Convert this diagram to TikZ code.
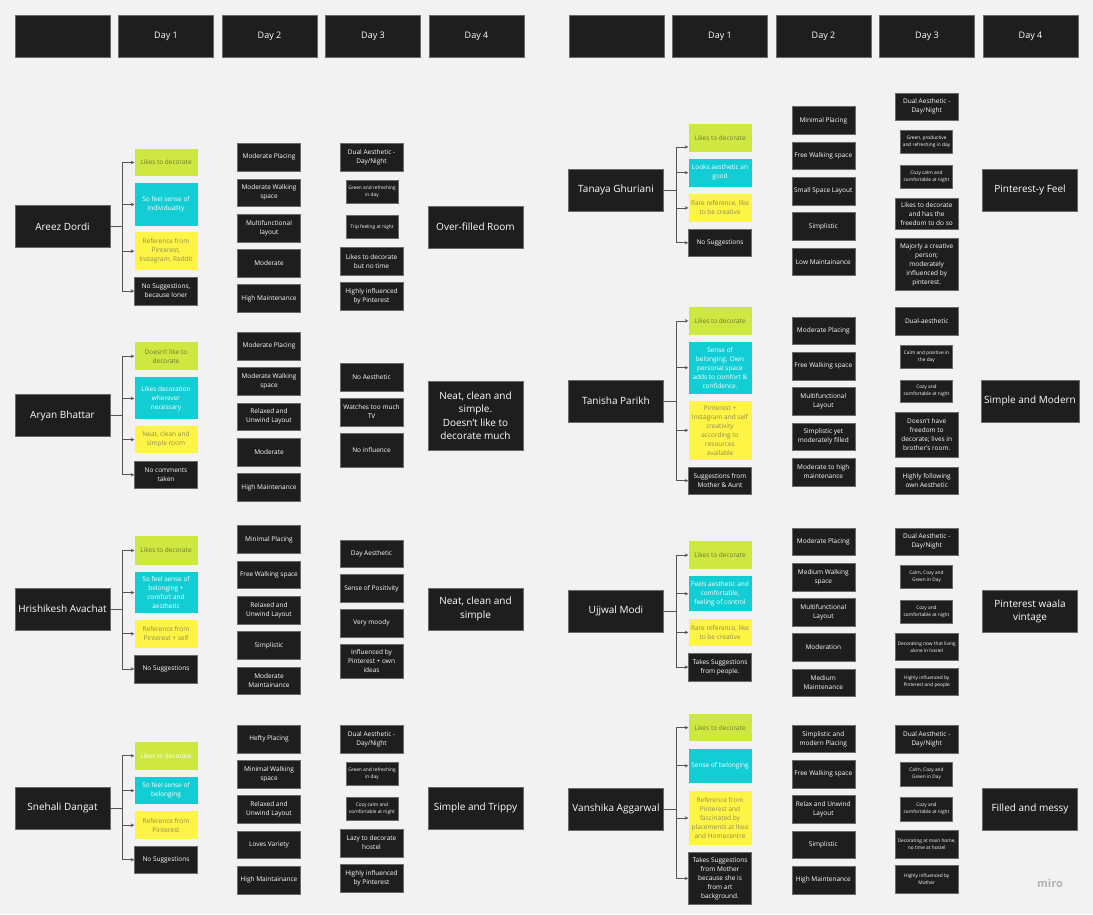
\documentclass[tikz,border=0pt]{standalone}
\usepackage{fontspec}
\setmainfont{Open Sans}
\usetikzlibrary{arrows.meta, positioning}

\definecolor{bgGray}{HTML}{F2F2F2}
\definecolor{boxDark}{HTML}{1E1E1E}
\definecolor{edgeGray}{HTML}{6A6A6A}
\definecolor{limeFill}{HTML}{CEE741}
\definecolor{limeText}{HTML}{6F7A2E}
\definecolor{cyanFill}{HTML}{12CDD4}
\definecolor{yellowFill}{HTML}{FEF445}
\definecolor{yellowText}{HTML}{8F8B4E}
\definecolor{lineGray}{HTML}{555555}

\begin{document}
\begin{tikzpicture}[
    x=1pt, y=-1pt,
    hdr/.style={rectangle, draw=edgeGray, line width=0.5pt, fill=boxDark, text=white, minimum width=95pt, minimum height=42pt, font=\fontsize{9}{11}\selectfont},
    person/.style={hdr, align=center, font=\fontsize{10}{13.5}\selectfont},
    cell/.style={rectangle, minimum width=63pt, minimum height=27.7pt, inner sep=1pt, align=center, font=\fontsize{6.5}{9}\selectfont},
    darkcell/.style={cell, draw=edgeGray, line width=0.5pt, fill=boxDark, text=white},
    limecell/.style={cell, fill=limeFill, text=limeText},
    cyancell/.style={cell, fill=cyanFill, text=white},
    yellowcell/.style={cell, fill=yellowFill, text=yellowText},
    tinytext/.style={font=\fontsize{4.8}{7}\selectfont},
    tinycell/.style={darkcell, tinytext, minimum width=52pt, minimum height=22.8pt},
    link/.style={draw=lineGray, line width=0.8pt},
    arrow/.style={link, -{Stealth[length=3.5pt, width=3.5pt]}}
]
\fill[bgGray] (0,0) rectangle (1093,914);
\useasboundingbox (0,0) rectangle (1093,914);

% Headers
\node[hdr] (hL0) at (62.5,36) {};
\node[hdr, right=8pt of hL0] (hL1) {Day 1};
\node[hdr, right=8pt of hL1] (hL2) {Day 2};
\node[hdr, right=8pt of hL2] (hL3) {Day 3};
\node[hdr, right=8pt of hL3] (hL4) {Day 4};
\node[hdr] (hR0) at (616.5,36) {};
\node[hdr, right=8pt of hR0] (hR1) {Day 1};
\node[hdr, right=8pt of hR1] (hR2) {Day 2};
\node[hdr, right=8pt of hR2] (hR3) {Day 3};
\node[hdr, right=8pt of hR3] (hR4) {Day 4};

% Areez
\node[person] (areez) at (62.5,226.3) {Areez Dordi};
\coordinate (areezJ) at (122,226.3);
\node[limecell] (areez11) at (166,162.5) {Likes to decorate};
\node[cyancell, minimum height=42.2pt] (areez12) at (166,204.5) {So feel sense of\\individuality};
\node[yellowcell, minimum height=37.6pt] (areez13) at (166,251.2) {Reference from\\Pinterest,\\Instagram, Reddit};
\node[darkcell, minimum height=28pt] (areez14) at (166,291) {No Suggestions,\\because loner};
\node[darkcell] (areez21) at (269,157.3) {Moderate Placing};
\node[darkcell, below=7.1pt of areez21] (areez22) {Moderate Walking\\space};
\node[darkcell, below=7.1pt of areez22] (areez23) {Multifunctional\\layout};
\node[darkcell, below=7.1pt of areez23] (areez24) {Moderate};
\node[darkcell, below=7.1pt of areez24] (areez25) {High Maintenance};
\node[darkcell] (areez31) at (371.5,157.3) {Dual Aesthetic -\\Day/Night};
\node[tinycell] (areez32) at (372,192) {Green and refreshing\\in day};
\node[tinycell] (areez33) at (372,226.8) {Trip feeling at night};
\node[darkcell] (areez34) at (371.5,261.5) {Likes to decorate\\but no time};
\node[darkcell] (areez35) at (371.5,296.2) {Highly influenced\\by Pinterest};
\node[person] (areez4) at (475.5,226.8) {Over-filled Room};

% Aryan
\node[person] (aryan) at (62.5,415.5) {Aryan Bhattar};
\coordinate (aryanJ) at (122,415.5);
\node[limecell] (aryan11) at (166,356.2) {Doesn't like to\\decorate};
\node[cyancell, minimum height=42pt] (aryan12) at (166,398.4) {Likes decoration\\wherever\\necessary};
\node[yellowcell] (aryan13) at (166,439.6) {Neat, clean and\\simple room};
\node[darkcell] (aryan14) at (166,474.8) {No comments\\taken};
\node[darkcell] (aryan21) at (269,346.2) {Moderate Placing};
\node[darkcell, below=7.1pt of aryan21] (aryan22) {Moderate Walking\\space};
\node[darkcell, below=7.1pt of aryan22] (aryan23) {Relaxed and\\Unwind Layout};
\node[darkcell, below=7.1pt of aryan23] (aryan24) {Moderate};
\node[darkcell, below=7.1pt of aryan24] (aryan25) {High Maintenance};
\node[darkcell] (aryan31) at (371.5,377.3) {No Aesthetic};
\node[darkcell] (aryan32) at (371.5,412) {Watches too much\\TV};
\node[darkcell, minimum height=34.4pt] (aryan33) at (371.5,450.4) {No influence};
\node[person, minimum height=69.6pt] (aryan4) at (475.5,415.6) {Neat, clean and\\simple.\\Doesn't like to\\decorate much};

% Hrishikesh
\node[person] (hrishi) at (62.5,609) {Hrishikesh Avachat};
\coordinate (hrishiJ) at (122,609);
\node[limecell, minimum height=28.4pt] (hrishi11) at (166,550.5) {Likes to decorate};
\node[cyancell, minimum height=41.5pt] (hrishi12) at (166,592.6) {So feel sense of\\belonging +\\comfort and\\aesthetic};
\node[yellowcell, minimum height=28pt] (hrishi13) at (166,633.8) {Reference from\\Pinterest + self};
\node[darkcell] (hrishi14) at (166,668.9) {No Suggestions};
\node[darkcell] (hrishi21) at (269,539.5) {Minimal Placing};
\node[darkcell, below=7.1pt of hrishi21] (hrishi22) {Free Walking space};
\node[darkcell, below=7.1pt of hrishi22] (hrishi23) {Relaxed and\\Unwind Layout};
\node[darkcell, below=7.1pt of hrishi23] (hrishi24) {Simplistic};
\node[darkcell, below=7.1pt of hrishi24] (hrishi25) {Moderate\\Maintainance};
\node[darkcell] (hrishi31) at (371.5,553.6) {Day Aesthetic};
\node[darkcell] (hrishi32) at (371.5,588.4) {Sense of Positivity};
\node[darkcell] (hrishi33) at (371.5,623) {Very moody};
\node[darkcell, minimum height=34.5pt] (hrishi34) at (371.5,661) {Influenced by\\Pinterest + own\\ideas};
\node[person] (hrishi4) at (475.5,609) {Neat, clean and\\simple};

% Snehali
\node[person] (snehali) at (62.5,808.3) {Snehali Dangat};
\coordinate (snehaliJ) at (122,808.3);
\node[limecell, text=white] (snehali11) at (166,755.8) {Likes to decorate};
\node[cyancell] (snehali12) at (166,790.6) {So feel sense of\\belonging};
\node[yellowcell] (snehali13) at (166,825.2) {Reference from\\Pinterest};
\node[darkcell] (snehali14) at (166,859.8) {No Suggestions};
\node[darkcell] (snehali21) at (269,738.9) {Hefty Placing};
\node[darkcell, below=7.1pt of snehali21] (snehali22) {Minimal Walking\\space};
\node[darkcell, below=7.1pt of snehali22] (snehali23) {Relaxed and\\Unwind Layout};
\node[darkcell, below=7.1pt of snehali23] (snehali24) {Loves Variety};
\node[darkcell, below=7.1pt of snehali24] (snehali25) {High Maintainance};
\node[darkcell] (snehali31) at (371.5,738.9) {Dual Aesthetic -\\Day/Night};
\node[tinycell] (snehali32) at (372,773.5) {Green and refreshing\\in day};
\node[tinycell] (snehali33) at (372,808.5) {Cozy calm and\\comfortable at night};
\node[darkcell] (snehali34) at (371.5,842.9) {Lazy to decorate\\hostel};
\node[darkcell] (snehali35) at (371.5,878) {Highly influenced\\by Pinterest};
\node[person] (snehali4) at (475.5,808.3) {Simple and Trippy};

% Tanaya
\node[person] (tanaya) at (616,190) {Tanaya Ghuriani};
\coordinate (tanayaJ) at (676.3,190);
\node[limecell, minimum height=28.3pt] (tanaya11) at (720,137.7) {Likes to decorate};
\node[cyancell] (tanaya12) at (720,172.7) {Looks aesthetic an\\good};
\node[yellowcell] (tanaya13) at (720,207.9) {Rare reference, like\\to be creative};
\node[darkcell] (tanaya14) at (720,242.8) {No Suggestions};
\node[darkcell] (tanaya21) at (823.3,120.5) {Minimal Placing};
\node[darkcell, below=7.1pt of tanaya21] (tanaya22) {Free Walking space};
\node[darkcell, below=7.1pt of tanaya22] (tanaya23) {Small Space Layout};
\node[darkcell, below=7.1pt of tanaya23] (tanaya24) {Simplistic};
\node[darkcell, below=7.1pt of tanaya24] (tanaya25) {Low Maintainance};
\node[darkcell] (tanaya31) at (926.7,106.6) {Dual Aesthetic -\\Day/Night};
\node[tinycell] (tanaya32) at (926.5,141.7) {Green, productive\\and refreshing in day};
\node[tinycell, minimum height=23.2pt] (tanaya33) at (926.5,176.6) {Cozy calm and\\comfortable at night};
\node[darkcell, minimum height=31.3pt] (tanaya34) at (926.7,213.7) {Likes to decorate\\and has the\\freedom to do so};
\node[darkcell, minimum height=51.7pt] (tanaya35) at (926.7,264.4) {Majorly a creative\\person;\\moderately\\influenced by\\pinterest.};
\node[person] (tanaya4) at (1030,190) {Pinterest-y Feel};

% Tanisha
\node[person] (tanisha) at (616,401) {Tanisha Parikh};
\coordinate (tanishaJ) at (676.3,401);
\node[limecell, minimum height=28.2pt] (tanisha11) at (720,320.9) {Likes to decorate};
\node[cyancell, minimum height=51.7pt] (tanisha12) at (720,367.7) {Sense of\\belonging. Own\\personal space\\adds to comfort \&\\confidence.};
\node[yellowcell, minimum height=59.2pt] (tanisha13) at (720,430.3) {Pinterest +\\Instagram and self\\creativity\\according to\\resources\\available};
\node[darkcell, minimum height=27.9pt] (tanisha14) at (720,480.7) {Suggestions from\\Mother \& Aunt};
\node[darkcell] (tanisha21) at (823.3,330.7) {Moderate Placing};
\node[darkcell, below=7.1pt of tanisha21] (tanisha22) {Free Walking space};
\node[darkcell, below=7.1pt of tanisha22] (tanisha23) {Multifunctional\\Layout};
\node[darkcell, below=7.1pt of tanisha23] (tanisha24) {Simplistic yet\\moderately filled};
\node[darkcell, below=7.1pt of tanisha24] (tanisha25) {Moderate to high\\maintenance};
\node[darkcell, minimum height=28.2pt] (tanisha31) at (926.7,320.9) {Dual-aesthetic};
\node[tinycell] (tanisha32) at (926.5,356.5) {Calm and positive in\\the day};
\node[tinycell] (tanisha33) at (926.5,391.2) {Cozy and\\comfortable at night};
\node[darkcell, minimum height=45pt] (tanisha34) at (926.7,434.7) {Doesn't have\\freedom to\\decorate; lives in\\brother's room.};
\node[darkcell, minimum height=27.9pt] (tanisha35) at (926.7,480.7) {Highly following\\own Aesthetic};
\node[person] (tanisha4) at (1030,401) {Simple and Modern};

% Ujjwal
\node[person] (ujjwal) at (616,611.3) {Ujjwal Modi};
\coordinate (ujjwalJ) at (676.3,611.3);
\node[limecell] (ujjwal11) at (720,555.1) {Likes to decorate};
\node[cyancell, minimum height=35pt] (ujjwal12) at (720,593.8) {Feels aesthetic and\\comfortable,\\feeling of control};
\node[yellowcell] (ujjwal13) at (720,632.4) {Rare reference, like\\to be creative};
\node[darkcell] (ujjwal14) at (720,667.1) {Takes Suggestions\\from people.};
\node[darkcell] (ujjwal21) at (823.3,541.6) {Moderate Placing};
\node[darkcell, below=7.1pt of ujjwal21] (ujjwal22) {Medium Walking\\space};
\node[darkcell, below=7.1pt of ujjwal22] (ujjwal23) {Multifunctional\\Layout};
\node[darkcell, below=7.1pt of ujjwal23] (ujjwal24) {Moderation};
\node[darkcell, below=7.1pt of ujjwal24] (ujjwal25) {Medium\\Maintenance};
\node[darkcell] (ujjwal31) at (926.7,541.6) {Dual Aesthetic -\\Day/Night};
\node[tinycell] (ujjwal32) at (926.5,576.7) {Calm, Cozy and\\Green in Day};
\node[tinycell] (ujjwal33) at (926.5,611.8) {Cozy and\\comfortable at night};
\node[darkcell, tinytext] (ujjwal34) at (926.7,646.7) {Decorating now that living\\alone in hostel};
\node[darkcell, tinytext] (ujjwal35) at (926.7,681.7) {Highly influenced by\\Pinterest and people};
\node[person] (ujjwal4) at (1030,611.3) {Pinterest waala\\vintage};

% Vanshika
\node[person] (vanshika) at (616,809) {Vanshika Aggarwal};
\coordinate (vanshikaJ) at (676.3,809);
\node[limecell] (vanshika11) at (720,727.6) {Likes to decorate};
\node[cyancell, minimum height=34.4pt] (vanshika12) at (720,765.8) {Sense of belonging};
\node[yellowcell, minimum height=54.4pt] (vanshika13) at (720,818) {Reference from\\Pinterest and\\fascinated by\\placements at Ikea\\and Homecentre};
\node[darkcell, minimum height=52pt] (vanshika14) at (720,878.4) {Takes Suggestions\\from Mother\\because she is\\from art\\background.};
\node[darkcell] (vanshika21) at (823.3,738.8) {Simplistic and\\modern Placing};
\node[darkcell, below=7.1pt of vanshika21] (vanshika22) {Free Walking space};
\node[darkcell, below=7.1pt of vanshika22] (vanshika23) {Relax and Unwind\\Layout};
\node[darkcell, below=7.1pt of vanshika23] (vanshika24) {Simplistic};
\node[darkcell, below=7.1pt of vanshika24] (vanshika25) {High Maintenance};
\node[darkcell] (vanshika31) at (926.7,738.9) {Dual Aesthetic -\\Day/Night};
\node[tinycell, minimum height=23.1pt] (vanshika32) at (926.5,774.2) {Calm, Cozy and\\Green in Day};
\node[tinycell, minimum height=23.1pt] (vanshika33) at (926.5,809.2) {Cozy and\\comfortable at night};
\node[darkcell, tinytext] (vanshika34) at (926.7,843.9) {Decorating at main home,\\no time at hostel};
\node[darkcell, tinytext] (vanshika35) at (926.7,879) {Highly influenced by\\Mother};
\node[person] (vanshika4) at (1030,809) {Filled and messy};

\node[text=black!30, font=\fontsize{11}{13}\selectfont\bfseries] (miro) at (1050,883) {miro};

% Arrows
\foreach \p in {areez, aryan, hrishi, snehali, tanaya, tanisha, ujjwal, vanshika} {
    \draw[link] (\p.east) -- (\p J);
    \draw[arrow] (\p J) |- (\p 12.west);
    \draw[arrow] (\p J) |- (\p 13.west);
    \draw[arrow] (\p J) |- (\p 14.west);
}
\foreach \p in {areez, aryan, hrishi, snehali, tanisha, ujjwal, vanshika}
    \draw[arrow] (\p J) |- (\p 11.west);
\draw[arrow] (tanayaJ) |- ([yshift=-9.3pt]tanaya11.west);

\end{tikzpicture}
\end{document}
